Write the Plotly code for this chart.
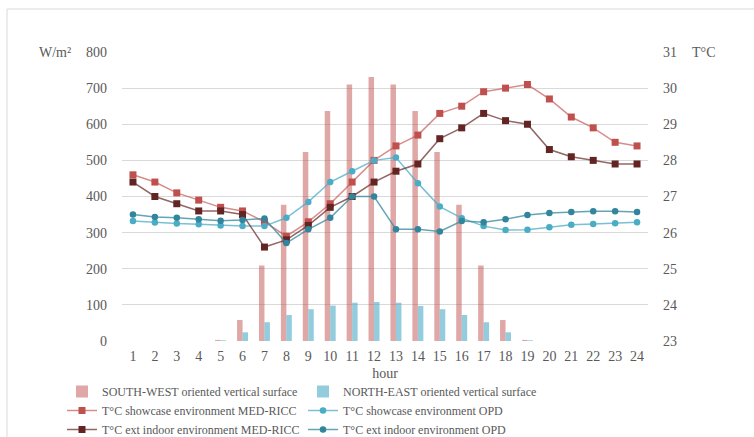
import plotly.graph_objects as go

hours = list(range(1, 25))
sw_surface = [0, 0, 0, 0, 3, 58, 209, 377, 523, 637, 710, 731, 710, 637, 523, 377, 209, 58, 3, 0, 0, 0, 0, 0]
ne_surface = [0, 0, 0, 0, 2, 24, 52, 72, 88, 98, 106, 108, 106, 97, 88, 72, 52, 24, 2, 0, 0, 0, 0, 0]
t_show_med = [27.6, 27.4, 27.1, 26.9, 26.7, 26.6, 26.3, 25.9, 26.3, 26.8, 27.4, 28.0,
              28.4, 28.7, 29.3, 29.5, 29.9, 30.0, 30.1, 29.7, 29.2, 28.9, 28.5, 28.4]
t_ext_med = [27.4, 27.0, 26.8, 26.6, 26.6, 26.5, 25.6, 25.8, 26.2, 26.7, 27.0, 27.4,
             27.7, 27.9, 28.6, 28.9, 29.3, 29.1, 29.0, 28.3, 28.1, 28.0, 27.9, 27.9]
t_show_opd = [26.32, 26.28, 26.25, 26.23, 26.2, 26.18, 26.18, 26.41, 26.85, 27.4, 27.7, 28.0,
              28.08, 27.37, 26.72, 26.4, 26.18, 26.07, 26.08, 26.15, 26.22, 26.24, 26.26, 26.29]
t_ext_opd = [26.5, 26.43, 26.41, 26.37, 26.33, 26.35, 26.39, 25.71, 26.09, 26.41, 27.0, 27.0,
             26.09, 26.09, 26.03, 26.32, 26.29, 26.37, 26.49, 26.54, 26.57, 26.59, 26.59, 26.57]

FONT = "Liberation Serif, Times New Roman, serif"
GRID = "#D9D9D9"
TXT = "#595959"

fig = go.Figure()
fig.add_trace(go.Bar(x=hours, y=sw_surface, name="SOUTH-WEST oriented vertical surface",
                     marker=dict(color="rgba(192,80,77,0.5)", line=dict(width=0))))
fig.add_trace(go.Bar(x=hours, y=ne_surface, name="NORTH-EAST oriented vertical surface",
                     marker=dict(color="rgba(75,172,198,0.6)", line=dict(width=0))))

def line(y, name, mcol, lcol, sym):
    fig.add_trace(go.Scatter(x=hours, y=y, name=name, yaxis="y2", mode="lines+markers",
                             line=dict(color=lcol, width=1.5),
                             marker=dict(color=mcol, size=7 if sym == "square" else 6.5, symbol=sym)))

line(t_show_med, "T°C showcase environment MED-RICC", "#C0504D", "rgba(192,80,77,0.65)", "square")
line(t_show_opd, "T°C showcase environment OPD", "#4BACC6", "rgba(75,172,198,0.75)", "circle")
line(t_ext_med, "T°C ext indoor environment MED-RICC", "#632523", "rgba(99,37,35,0.7)", "square")
line(t_ext_opd, "T°C ext indoor environment OPD", "#31859C", "rgba(49,133,156,0.75)", "circle")

L, R, T, B = 122, 106, 52, 96
W, H = 754, 437
pw, ph = W - L - R, H - T - B

def px(x):
    return (x - L) / pw

def py(y):
    return (H - B - y) / ph

fig.update_layout(
    width=W, height=H,
    margin=dict(l=L, r=R, t=T, b=B, autoexpand=False),
    paper_bgcolor="white", plot_bgcolor="white",
    font=dict(family=FONT, size=14, color=TXT),
    barmode="group", bargap=0.5, bargroupgap=0,
    xaxis=dict(range=[0.5, 24.5], tickvals=hours, ticktext=[str(h) for h in hours],
               showgrid=False, zeroline=False, showline=False, ticks="",
               title=dict(text="hour", font=dict(family=FONT, size=14, color=TXT), standoff=5),
               tickfont=dict(family=FONT, size=14, color=TXT), ticklabelstandoff=5),
    yaxis=dict(range=[0, 800], tickvals=list(range(0, 801, 100)), showgrid=True,
               gridcolor=GRID, gridwidth=1, zeroline=False, showline=False, ticks="",
               tickfont=dict(family=FONT, size=14, color=TXT), ticklabelstandoff=14),
    yaxis2=dict(range=[23, 31], tickvals=list(range(23, 32)), overlaying="y", side="right",
                showgrid=False, zeroline=False, showline=False, ticks="",
                tickfont=dict(family=FONT, size=14, color=TXT), ticklabelstandoff=14),
    legend=dict(orientation="h", x=px(62), y=py(377), xanchor="left", yanchor="top",
                entrywidth=196, entrywidthmode="pixels",
                font=dict(family=FONT, size=12, color=TXT),
                tracegroupgap=0, itemwidth=30, bgcolor="rgba(0,0,0,0)"),
    showlegend=True,
    annotations=[
        dict(text="W/m²", xref="paper", yref="paper", x=px(55), y=1, xanchor="center",
             yanchor="middle", showarrow=False, font=dict(family=FONT, size=14, color=TXT)),
        dict(text="T°C", xref="paper", yref="paper", x=px(704), y=1, xanchor="center",
             yanchor="middle", showarrow=False, font=dict(family=FONT, size=14, color=TXT)),
    ],
    shapes=[
        dict(type="line", xref="paper", yref="paper", x0=px(7), x1=px(754), y0=py(9), y1=py(9),
             line=dict(color=GRID, width=1)),
        dict(type="line", xref="paper", yref="paper", x0=px(7), x1=px(7), y0=py(9), y1=py(437),
             line=dict(color=GRID, width=1)),
    ],
)

fig.write_html("out.html")
